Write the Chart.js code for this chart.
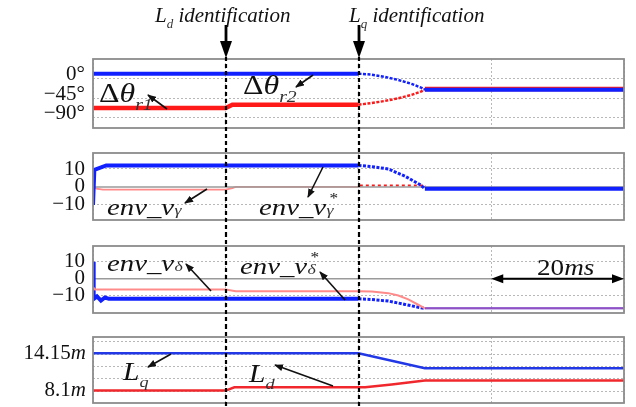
<!DOCTYPE html>
<html>
<head>
<meta charset="utf-8">
<script src="https://cdn.jsdelivr.net/npm/chart.js@4.4.0/dist/chart.umd.min.js"></script>
<style>
body { margin: 0; background: #fff; }
#wrap { position: relative; width: 636px; height: 407px; overflow: hidden; }
.pc { position: absolute; left: 0; }
.lab { position: absolute; font-family: "Liberation Serif", serif; font-style: italic; color: #111; white-space: nowrap; line-height: 1; z-index: 3; transform: scaleX(1.18); transform-origin: left top; }
.lab.top { transform: scaleX(1.05); }
.lab.env { transform: scaleX(1.25); }
.lab .up { font-style: normal; }
.lab sub { font-size: 0.62em; vertical-align: -0.45em; color: #333; }
.ss { display: inline-block; position: relative; width: 0.55em; height: 1em; }
.ss .sp { position: absolute; left: 0.2em; top: 0.02em; font-size: 0.6em; font-style: normal; }
.ss .sb { position: absolute; left: 0.02em; top: 0.8em; font-size: 0.62em; color: #333; }
svg { position: absolute; left: 0; top: 0; z-index: 2; }
</style>
</head>
<body>
<div id="wrap">
  <canvas id="c1" class="pc" width="636" height="141" style="top:0px"></canvas>
  <canvas id="c2" class="pc" width="636" height="92" style="top:141px"></canvas>
  <canvas id="c3" class="pc" width="636" height="92" style="top:233px"></canvas>
  <canvas id="c4" class="pc" width="636" height="82" style="top:325px"></canvas>

  <svg width="636" height="407">
    <defs>
      <marker id="ah" markerWidth="9" markerHeight="7" refX="8" refY="3.5" orient="auto" markerUnits="userSpaceOnUse">
        <path d="M0,0 L9,3.5 L0,7 z" fill="#111"/>
      </marker>
    </defs>
    <g stroke="#111" stroke-width="1.6" marker-end="url(#ah)">
      <line x1="167" y1="109" x2="148" y2="95"/>
      <line x1="313" y1="75" x2="296" y2="87"/>
      <line x1="207" y1="189" x2="185" y2="203"/>
      <line x1="323" y1="167" x2="308" y2="197"/>
      <line x1="211" y1="291" x2="186" y2="264"/>
      <line x1="345" y1="300" x2="320" y2="272"/>
      <line x1="171" y1="354" x2="148" y2="367"/>
      <line x1="333" y1="386" x2="275" y2="365"/>
    </g>
  </svg>

  <span class="lab top" style="left:155px;top:5px;font-size:20px">L<sub>d</sub> identification</span>
  <span class="lab top" style="left:349px;top:5px;font-size:20px">L<sub>q</sub> identification</span>

  <span class="lab" style="left:99px;top:80px;font-size:27px"><span class="up">Δ</span>θ<sub>r1</sub></span>
  <span class="lab" style="left:243px;top:72px;font-size:27px"><span class="up">Δ</span>θ<sub>r2</sub></span>

  <span class="lab env" style="left:107px;top:192px;font-size:23px">env_v<span class="ss"><span class="sb">γ</span></span></span>
  <span class="lab env" style="left:259px;top:192px;font-size:23px">env_v<span class="ss"><span class="sp">*</span><span class="sb">γ</span></span></span>

  <span class="lab env" style="left:107px;top:248px;font-size:23px">env_v<span class="ss"><span class="sb">δ</span></span></span>
  <span class="lab env" style="left:240px;top:251px;font-size:23px">env_v<span class="ss"><span class="sp">*</span><span class="sb">δ</span></span></span>
  <span class="lab" style="left:537px;top:256px;font-size:23px"><span class="up">20</span>ms</span>

  <span class="lab" style="left:123px;top:359px;font-size:25px">L<sub>q</sub></span>
  <span class="lab" style="left:249px;top:361px;font-size:25px">L<sub>d</sub></span>
</div>

<script>
// time axis (ms)
const xTicks = [0, 20, 40, 60, 80];
const ldTime = 20;
const lqTime = 40;

// panel 1: angle errors (deg)
const thetaTicks = [0, -45, -90];
const thetaLabels = ['0°', '−45°', '−90°'];
const thetaR1T = [0, 20, 21, 40, 42, 44, 46, 48, 49.5, 50, 80];
const thetaR1 = [-67, -67, -59.5, -59.5, -56, -51, -45, -37, -29, -23.5, -23.5];
const thetaR2T = [0, 40, 42, 44, 46, 48, 49.5, 50, 80];
const thetaR2 = [11.5, 11.5, 9, 4, -3, -12, -21, -25.5, -25.5];

// panel 2: env_v_gamma
const gammaTicks = [10, 0, -10];
const gammaLabels = ['10', '0', '−10'];
const envGT = [0, 0.5, 1.5, 20, 21, 21.5, 39.9, 40.2, 50, 50.2, 80];
const envG = [0.5, -1, -1.5, -1.5, -0.6, 0, 0, 0.8, 0.8, -0.8, -0.8];
const envGStarT = [0, 0.2, 2, 40, 42, 44.5, 47, 49.4, 50, 80];
const envGStar = [-10, 9.5, 12, 12, 11.3, 10, 6, 1, -1, -1];

// panel 3: env_v_delta
const deltaTicks = [10, 0, -10];
const deltaLabels = ['10', '0', '−10'];
const envDT = [0, 0.3, 20, 21.5, 40, 42, 44.5, 46, 47.5, 49, 50, 80];
const envD = [-5, -6.5, -6.5, -7.5, -7.5, -7.7, -8.6, -10, -12.3, -15.5, -17.6, -17.6];
const envDStarT = [0, 0.1, 0.6, 1.2, 1.8, 2.4, 40, 42, 44.5, 47, 49.4, 50, 80];
const envDStar = [10, -12, -10.5, -13, -11.2, -12, -12, -12.4, -13.3, -15.3, -17.3, -17.6, -17.6];
const zeroT = [0, 80];
const zeroV = [0, 0];

// panel 4: inductances (mH)
const lGrid = [8, 10, 12, 14, 16];
const lTicks = [14.15, 8.1];
const lqT = [0, 40, 50, 80];
const lq = [14.15, 14.15, 11.72, 11.72];
const ldT = [0, 20, 21.3, 41, 45, 50, 80];
const ld = [8.1, 8.1, 8.64, 8.64, 9.1, 9.72, 9.72];

const BLUE = '#1020ff';
const RED = '#ff1a1a';
const PINK = '#ff8a8a';
const GRID = '#b8b8b8';

const pts = (T, V) => T.map((t, i) => ({ x: t, y: V[i] }));
const inDecay = val => ctx => (ctx.p0.parsed.x >= lqTime && ctx.p1.parsed.x <= 50.01) ? val : undefined;

const frame = {
  id: 'frame',
  afterDraw(chart, args, opts) {
    const { ctx, chartArea: a, scales } = chart;
    ctx.save();
    ctx.strokeStyle = '#8c8c8c';
    ctx.lineWidth = 1.8;
    ctx.strokeRect(a.left, a.top, a.right - a.left, a.bottom - a.top);

    ctx.strokeStyle = '#000';
    ctx.lineWidth = 2.2;
    ctx.setLineDash([4, 3]);
    [ldTime, lqTime].forEach(t => {
      const x = Math.round(scales.x.getPixelForValue(t));
      ctx.beginPath();
      ctx.moveTo(x, opts.from || 0);
      ctx.lineTo(x, chart.height);
      ctx.stroke();
    });
    ctx.setLineDash([]);
    ctx.fillStyle = '#000';

    if (opts.arrows) {
      [ldTime, lqTime].forEach(t => {
        const x = Math.round(scales.x.getPixelForValue(t));
        ctx.lineWidth = 2.8;
        ctx.beginPath();
        ctx.moveTo(x, 25);
        ctx.lineTo(x, 44);
        ctx.stroke();
        ctx.beginPath();
        ctx.moveTo(x - 6, 41);
        ctx.lineTo(x + 6, 41);
        ctx.lineTo(x, 58);
        ctx.closePath();
        ctx.fill();
      });
    }

    if (opts.span) {
      const x0 = scales.x.getPixelForValue(opts.span[0]);
      const x1 = scales.x.getPixelForValue(opts.span[1]);
      const y = scales.y.getPixelForValue(0);
      ctx.lineWidth = 2;
      ctx.beginPath();
      ctx.moveTo(x0 + 6, y);
      ctx.lineTo(x1 - 6, y);
      ctx.stroke();
      [[x0, 1], [x1, -1]].forEach(([x, d]) => {
        ctx.beginPath();
        ctx.moveTo(x, y);
        ctx.lineTo(x + d * 12, y - 4.5);
        ctx.lineTo(x + d * 12, y + 4.5);
        ctx.closePath();
        ctx.fill();
      });
    }

    if (opts.mLabels) {
      ctx.textBaseline = 'middle';
      ctx.fillStyle = '#111';
      opts.mLabels.forEach(v => {
        const y = scales.y.getPixelForValue(v);
        ctx.font = 'italic 21px "Liberation Serif"';
        ctx.textAlign = 'right';
        const mw = ctx.measureText('m').width;
        ctx.fillText('m', 86, y);
        ctx.font = '21px "Liberation Serif"';
        ctx.fillText(String(v), 86 - mw, y);
      });
    }
    ctx.restore();
  }
};

function makePanel(id, p) {
  return new Chart(document.getElementById(id), {
    type: 'line',
    data: { datasets: p.datasets },
    options: {
      responsive: false,
      animation: false,
      events: [],
      layout: { padding: { top: p.padTop, bottom: p.padBottom, left: 0, right: 12 } },
      elements: { point: { radius: 0 }, line: { tension: 0, borderCapStyle: 'butt', fill: false } },
      plugins: {
        legend: { display: false },
        tooltip: { enabled: false },
        frame: p.frame || {}
      },
      scales: {
        x: {
          type: 'linear', min: 0, max: 80,
          afterBuildTicks: s => { s.ticks = xTicks.map(v => ({ value: v })); },
          afterFit: s => { s.height = 0; s.paddingLeft = 0; s.paddingRight = 0; },
          ticks: { display: false },
          grid: { color: GRID, lineWidth: 1, drawTicks: false },
          border: { display: false, dash: [2, 2] }
        },
        y: {
          min: p.yMin, max: p.yMax,
          afterBuildTicks: s => { s.ticks = p.yGrid.map(v => ({ value: v })); },
          afterFit: s => { s.width = 93; s.paddingTop = 0; s.paddingBottom = 0; },
          ticks: {
            display: !!p.yLabels,
            callback: v => p.yLabels ? p.yLabels[p.yGrid.indexOf(v)] : '',
            font: { family: 'Liberation Serif', size: 21 },
            color: '#111',
            padding: 8,
            labelOffset: p.labelOffset || 0
          },
          grid: {
            color: ctx => (p.solidZero && ctx.tick && ctx.tick.value === 0) ? 'rgba(0,0,0,0)' : GRID,
            lineWidth: 1, drawTicks: false
          },
          border: { display: false, dash: [2, 2] }
        }
      }
    },
    plugins: [frame]
  });
}

makePanel('c1', {
  padTop: 59, padBottom: 13, yMin: -113, yMax: 45,
  yGrid: thetaTicks, yLabels: thetaLabels, labelOffset: -4,
  frame: { from: 57, arrows: true },
  datasets: [
    { data: pts(thetaR2T, thetaR2), borderColor: BLUE, borderWidth: 4, order: 0,
      segment: { borderDash: inDecay([3, 1.5]), borderWidth: inDecay(2.5) } },
    { data: pts(thetaR1T, thetaR1), borderColor: RED, borderWidth: 4.5, order: 1,
      segment: { borderDash: inDecay([3, 1.5]), borderWidth: inDecay(2.5) } }
  ]
});

makePanel('c2', {
  padTop: 12, padBottom: 13, yMin: -18.4, yMax: 18.9,
  yGrid: gammaTicks, yLabels: gammaLabels, solidZero: true,
  datasets: [
    { data: pts(envGStarT, envGStar), borderColor: BLUE, borderWidth: 4, order: 0,
      segment: { borderDash: inDecay([3, 1.5]), borderWidth: inDecay(3) } },
    { data: pts(zeroT, zeroV), borderColor: '#9a9a9a', borderWidth: 1.5, order: 1 },
    { data: pts(envGT, envG), borderColor: PINK, borderWidth: 1.8, order: 2,
      segment: { borderDash: inDecay([3, 3]), borderColor: inDecay(RED) } }
  ]
});

makePanel('c3', {
  padTop: 13, padBottom: 12, yMin: -20.4, yMax: 19.4,
  yGrid: deltaTicks, yLabels: deltaLabels, solidZero: true,
  frame: { span: [60, 80] },
  datasets: [
    { data: pts(envDStarT, envDStar), borderColor: BLUE, borderWidth: 4, order: 1,
      segment: { borderDash: inDecay([3, 1.5]), borderWidth: ctx => ctx.p0.parsed.x >= 49.9 ? 2 : (ctx.p0.parsed.x >= lqTime ? 3 : undefined) } },
    { data: pts(zeroT, zeroV), borderColor: '#9a9a9a', borderWidth: 1.5, order: 2 },
    { data: pts(envDT, envD), borderColor: PINK, borderWidth: 2, order: 0,
      segment: { borderColor: ctx => ctx.p0.parsed.x >= 49.9 ? 'rgba(255,120,140,0.55)' : undefined } }
  ]
});

makePanel('c4', {
  padTop: 12, padBottom: 4, yMin: 6.08, yMax: 16.8,
  yGrid: lGrid, yLabels: null,
  frame: { mLabels: lTicks },
  datasets: [
    { data: pts(lqT, lq), borderColor: '#2238e6', borderWidth: 2.5, order: 0 },
    { data: pts(ldT, ld), borderColor: '#f0282d', borderWidth: 2.5, order: 1 }
  ]
});
</script>
</body>
</html>
